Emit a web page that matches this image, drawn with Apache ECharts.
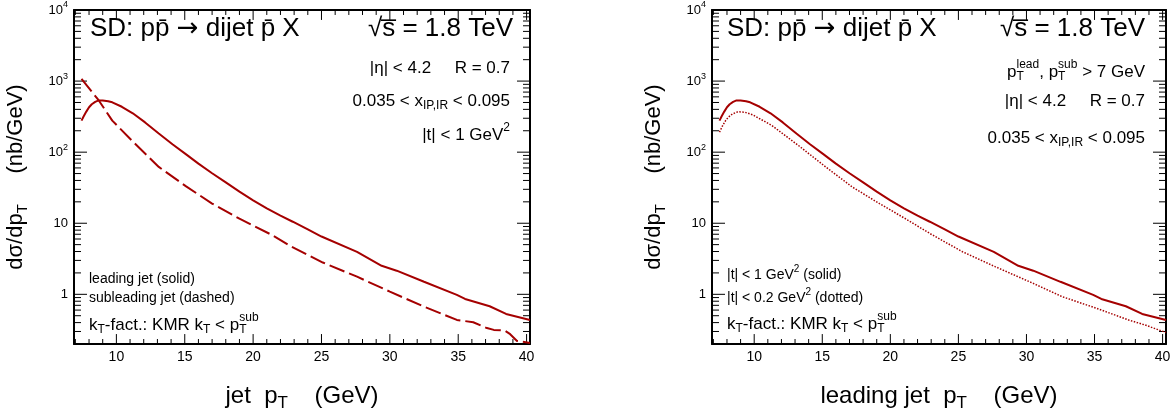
<!DOCTYPE html>
<html>
<head>
<meta charset="utf-8">
<script src="https://cdn.jsdelivr.net/npm/echarts@6/dist/echarts.min.js"></script>
<style>
  html, body { margin: 0; padding: 0; background: #fff; }
  #chart { width: 1174px; height: 417px; }
</style>
</head>
<body>
<div id="chart"></div>
<script>
// leading jet, |t| < 1 GeV^2 (solid line, both panels)
const ptLead = [7.45, 7.6, 7.8, 8.0, 8.2, 8.45, 8.7, 9.0, 9.4, 9.7, 10.4, 11.2, 12.1, 13.1, 14.1, 15.1, 16.0, 17.0, 18.0, 19.0, 20.0, 21.0, 22.0, 22.9, 24.0, 25.0, 27.6, 29.4, 30.5, 32.5, 34.9, 35.5, 37.3, 38.5, 40.25]
const xsLead = [278, 318, 372, 429, 472, 510, 534, 533, 520, 503, 435, 352, 262, 183, 129, 93, 69, 50.5, 37.5, 27.8, 21, 16.2, 12.8, 10.5, 8.2, 6.5, 3.95, 2.52, 2.15, 1.5, 0.98, 0.86, 0.68, 0.53, 0.436]

// subleading jet (dashed, left panel)
const ptSub = [7.45, 8.7, 9.7, 11.2, 13.1, 15.1, 17.0, 19.0, 21.4, 22.7, 25.1, 27.6, 30.0, 32.5, 34.9, 36.1, 37.1, 37.6, 38.4, 38.8, 39.3, 40.25]
const xsSub = [1070, 538, 278, 141, 62, 33, 18.9, 11.6, 6.8, 4.8, 2.8, 1.77, 1.09, 0.67, 0.436, 0.405, 0.335, 0.316, 0.309, 0.275, 0.221, 0.207]

// leading jet, |t| < 0.2 GeV^2 (dotted, right panel)
const ptSmallT = [7.45, 7.7, 7.9, 8.1, 8.4, 8.8, 9.3, 9.9, 11.3, 13.3, 15.25, 17.2, 19.2, 21.1, 23.0, 25.3, 27.7, 30.2, 32.6, 35.1, 37.5, 38.7, 40.25]
const xsSmallT = [191, 240, 278, 310, 345, 370, 365, 335, 237, 122, 62, 32.4, 18.9, 11.6, 7.0, 3.97, 2.45, 1.51, 0.93, 0.64, 0.436, 0.371, 0.29]

// axis ticks
const xMajor = [10, 15, 20, 25, 30, 35, 40]
const xMinor = [7, 8, 9, 11, 12, 13, 14, 16, 17, 18, 19, 21, 22, 23, 24, 26, 27, 28, 29, 31, 32, 33, 34, 36, 37, 38, 39]
const yMajor = [1, 10, 100, 1000, 10000]
const yMinor = [0.2, 0.3, 0.4, 0.5, 0.6, 0.7, 0.8, 0.9, 2, 3, 4, 5, 6, 7, 8, 9, 20, 30, 40, 50, 60, 70, 80, 90,
  200, 300, 400, 500, 600, 700, 800, 900, 2000, 3000, 4000, 5000, 6000, 7000, 8000, 9000]

const FONT = '"Liberation Sans", Arial, Helvetica, sans-serif'
const RED = '#a50000'
const X_MIN = 6.9, X_MAX = 40.25, Y_MIN = 0.2, Y_MAX = 10000
const GRID_H = 336

function makeRich(fs) {
  const small = Math.round(fs * 0.7)
  return {
    n: { fontSize: fs, fontFamily: FONT, color: '#000', align: 'left' },
    arr: { fontSize: fs, fontFamily: '"DejaVu Sans"', color: '#000', align: 'left' },
    sub: { fontSize: small, fontFamily: FONT, color: '#000', align: 'left', padding: [Math.round(fs * 0.6), 0, 0, 0] },
    subz: { fontSize: small, fontFamily: FONT, color: '#000', align: 'left', width: 0, padding: [Math.round(fs * 0.6), 0, 0, 0] },
    sup: { fontSize: small, fontFamily: FONT, color: '#000', align: 'left', padding: [0, 0, Math.round(fs * 0.8), 0] }
  }
}

function txt(x, y, text, fs, align) {
  return {
    type: 'text', x: x, y: y, silent: true,
    style: {
      text: text, fontSize: fs, fontFamily: FONT, fill: '#000',
      align: align || 'left', verticalAlign: 'middle',
      rich: makeRich(fs)
    }
  }
}

const frame = { show: true, onZero: false, lineStyle: { color: '#000', width: 2 } }

function xAxes(grid, name) {
  const base = { type: 'value', gridIndex: grid, min: X_MIN, max: X_MAX, splitLine: { show: false }, axisTick: { show: false } }
  return [
    Object.assign({}, base, {
      position: 'bottom', axisLine: frame,
      axisLabel: { show: true, customValues: xMajor, color: '#000', fontSize: 14, fontFamily: FONT, margin: 6 },
      name: name, nameLocation: 'middle', nameGap: 37,
      nameTextStyle: { fontSize: 24, fontFamily: FONT, color: '#000', rich: makeRich(24) }
    }),
    Object.assign({}, base, { position: 'top', axisLine: frame, axisLabel: { show: false } })
  ]
}

function yLabel(v) {
  const e = Math.round(Math.log10(v))
  if (e === 0) return '{n|1}'
  if (e === 1) return '{n|10}'
  return '{n|10}{sup|' + e + '}'
}

function yAxes(grid) {
  const base = { type: 'log', logBase: 10, gridIndex: grid, min: Y_MIN, max: Y_MAX, splitLine: { show: false }, axisTick: { show: false } }
  return [
    Object.assign({}, base, {
      position: 'left', axisLine: frame,
      axisLabel: { show: true, customValues: yMajor, formatter: yLabel, margin: 6, rich: makeRich(13) },
      name: '{n|d\u03c3/dp}{sub|T}{n|     (nb/GeV)}', nameLocation: 'middle', nameGap: 44, nameRotate: 90,
      nameTextStyle: { fontSize: 22, fontFamily: FONT, color: '#000', rich: makeRich(22) }
    }),
    Object.assign({}, base, { position: 'right', axisLine: frame, axisLabel: { show: false } })
  ]
}

function curve(xi, yi, xs, ys, type, width) {
  return {
    type: 'line', xAxisIndex: xi, yAxisIndex: yi, data: xs.map((x, i) => [x, ys[i]]),
    showSymbol: false, smooth: false, silent: true, z: 3,
    lineStyle: { color: RED, width: width, type: type }
  }
}

// inward frame ticks as short line segments in data space (ROOT style: all four sides)
function tickSeries(xi, yi, gridW) {
  const out = []
  const seg = (a, b) => ({
    type: 'line', xAxisIndex: xi, yAxisIndex: yi, data: [a, b],
    showSymbol: false, silent: true, z: 2,
    lineStyle: { color: '#000', width: 1 }
  })
  const yFac = len => Math.pow(Y_MAX / Y_MIN, len / GRID_H)
  const xLen = len => (X_MAX - X_MIN) * len / gridW
  const addX = (vals, len) => vals.forEach(v => {
    out.push(seg([v, Y_MIN], [v, Y_MIN * yFac(len)]))
    out.push(seg([v, Y_MAX], [v, Y_MAX / yFac(len)]))
  })
  const addY = (vals, len) => vals.forEach(v => {
    out.push(seg([X_MIN, v], [X_MIN + xLen(len), v]))
    out.push(seg([X_MAX, v], [X_MAX - xLen(len), v]))
  })
  addX(xMajor, 10)
  addX(xMinor, 5)
  addY(yMajor, 13)
  addY(yMinor, 7)
  return out
}

const chart = echarts.init(document.getElementById('chart'))

const titleText = '{n|SD: pp\u0304 }{arr|\u2192}{n| dijet p\u0304 X}'

chart.setOption({
  animation: false,
  grid: [
    { left: 74, top: 10, width: 456, height: GRID_H },
    { left: 712, top: 10, width: 454, height: GRID_H }
  ],
  xAxis: xAxes(0, '{n|jet  p}{sub|T}{n|    (GeV)}').concat(xAxes(1, '{n|leading jet  p}{sub|T}{n|    (GeV)}')),
  yAxis: yAxes(0).concat(yAxes(1)),
  series: [
    curve(0, 0, ptLead, xsLead, 'solid', 2),
    curve(0, 0, ptSub, xsSub, [16, 5], 2),
    curve(2, 2, ptLead, xsLead, 'solid', 2),
    curve(2, 2, ptSmallT, xsSmallT, [1.5, 1.5], 1.5)
  ].concat(tickSeries(0, 0, 456), tickSeries(2, 2, 454)),
  graphic: [
    // left panel
    txt(90, 29, titleText, 26),
    txt(513, 29, '{n|\u221As\u0305 = 1.8 TeV}', 26, 'right'),
    txt(510, 68, '{n||\u03b7| < 4.2     R = 0.7}', 17, 'right'),
    txt(510, 101, '{n|0.035 < x}{sub|IP,IR}{n| < 0.095}', 17, 'right'),
    txt(510, 135, '{n||t| < 1 GeV}{sup|2}', 17, 'right'),
    txt(89, 279, 'leading jet (solid)', 14),
    txt(89, 298, 'subleading jet (dashed)', 14),
    txt(89, 325, '{n|k}{sub|T}{n|-fact.: KMR k}{sub|T}{n| < p}{subz|T}{sup|sub}', 17),
    // right panel
    txt(727, 29, titleText, 26),
    txt(1145, 29, '{n|\u221As\u0305 = 1.8 TeV}', 26, 'right'),
    txt(1145, 72, '{n|p}{subz|T}{sup|lead}{n|, p}{subz|T}{sup|sub}{n| > 7 GeV}', 17, 'right'),
    txt(1145, 101, '{n||\u03b7| < 4.2     R = 0.7}', 17, 'right'),
    txt(1145, 138, '{n|0.035 < x}{sub|IP,IR}{n| < 0.095}', 17, 'right'),
    txt(727, 275, '{n||t| < 1 GeV}{sup|2}{n| (solid)}', 14),
    txt(727, 298, '{n||t| < 0.2 GeV}{sup|2}{n| (dotted)}', 14),
    txt(727, 324, '{n|k}{sub|T}{n|-fact.: KMR k}{sub|T}{n| < p}{subz|T}{sup|sub}', 17)
  ]
})
</script>
</body>
</html>
